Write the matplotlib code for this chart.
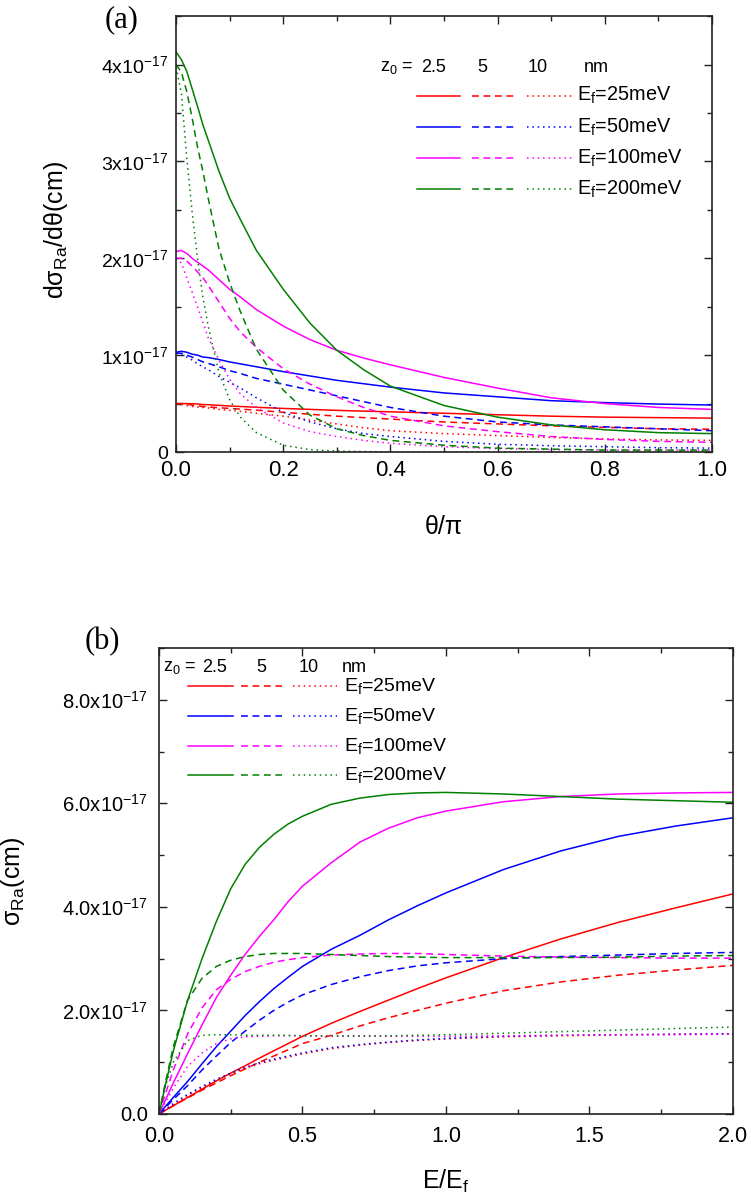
import matplotlib
matplotlib.use("Agg")
import matplotlib.pyplot as plt
from matplotlib.ticker import FixedLocator, FixedFormatter, MultipleLocator

plt.rcParams['font.family'] = ['Liberation Sans', 'DejaVu Sans']
plt.rcParams['mathtext.fontset'] = 'custom'
plt.rcParams['mathtext.rm'] = 'Liberation Sans'
plt.rcParams['mathtext.it'] = 'Liberation Sans:italic'

# ---------------- data, panel (a): dsigma/dtheta in units of 1e-17 cm ----------------
theta = [0, .01, .02, .03, .04, .05, .06, .08, .1, .12, .15, .2, .25, .3, .35, .4,
         .5, .6, .7, .8, .9, 1.0]

a_25_z25 = [.5, .5, .5, .498, .496, .49, .488, .482, .475, .47, .462, .45, .44, .43,
            .422, .415, .40, .385, .37, .36, .355, .35]
a_25_z5 = [.5, .5, .495, .485, .478, .47, .465, .457, .45, .443, .432, .41, .39, .37,
           .355, .34, .31, .29, .27, .255, .24, .235]
a_25_z10 = [.5, .49, .48, .47, .465, .46, .455, .44, .43, .42, .40, .37, .33, .29,
            .25, .22, .19, .17, .15, .135, .125, .12]

a_50_z25 = [1.03, 1.04, 1.03, 1.01, 1.0, .98, .975, .955, .93, .91, .88, .83, .785,
            .74, .705, .67, .61, .57, .53, .51, .495, .485]
a_50_z5 = [1.02, 1.02, 1.0, .98, .955, .93, .915, .88, .84, .81, .76, .70, .64, .58,
           .52, .46, .37, .31, .28, .26, .24, .22]
a_50_z10 = [1.02, 1.0, .98, .95, .91, .88, .85, .78, .72, .66, .56, .41, .31, .24,
            .19, .16, .11, .08, .065, .055, .045, .04]

a_100_z25 = [2.07, 2.08, 2.05, 2.0, 1.96, 1.92, 1.88, 1.78, 1.68, 1.6, 1.47, 1.3,
             1.16, 1.05, .97, .90, .77, .66, .56, .50, .46, .44]
a_100_z5 = [2.0, 2.0, 1.97, 1.92, 1.86, 1.8, 1.72, 1.55, 1.38, 1.24, 1.08, .86, .70,
            .57, .46, .37, .27, .21, .16, .13, .11, .10]
a_100_z10 = [2.0, 1.95, 1.8, 1.65, 1.5, 1.34, 1.18, .95, .75, .6, .46, .30, .21, .16,
             .12, .09, .055, .035, .025, .02, .02, .02]

a_200_z25 = [4.13, 4.05, 3.93, 3.75, 3.57, 3.38, 3.22, 2.9, 2.62, 2.4, 2.08, 1.68,
             1.33, 1.05, .85, .68, .48, .36, .28, .23, .20, .19]
a_200_z5 = [4.0, 3.92, 3.72, 3.45, 3.15, 2.9, 2.62, 2.1, 1.75, 1.45, 1.06, .64, .38,
            .24, .17, .12, .07, .04, .03, .02, .02, .02]
a_200_z10 = [3.97, 3.7, 3.04, 2.48, 2.0, 1.6, 1.3, .82, .54, .36, .2, .07, .025, .01,
             .005, 0, 0, 0, 0, 0, 0, 0]

# ---------------- data, panel (b): sigma in units of 1e-17 cm ----------------
e_ratio = [0, .02, .05, .1, .15, .2, .25, .3, .35, .4, .45, .5, .6, .7, .8, .9, 1.0,
           1.2, 1.4, 1.6, 1.8, 2.0]

b_25_z25 = [0, .065, .16, .32, .48, .64, .79, .93, 1.08, 1.22, 1.36, 1.50, 1.75, 1.98,
            2.2, 2.42, 2.63, 3.02, 3.38, 3.7, 3.98, 4.25]
b_25_z5 = [0, .065, .16, .31, .46, .6, .74, .87, 1.0, 1.12, 1.24, 1.36, 1.52, 1.7,
           1.86, 2.0, 2.14, 2.38, 2.55, 2.68, 2.78, 2.87]
b_25_z10 = [0, .07, .18, .36, .51, .65, .77, .88, .97, 1.04, 1.10, 1.16, 1.26, 1.33,
            1.38, 1.42, 1.45, 1.49, 1.51, 1.53, 1.54, 1.55]

b_50_z25 = [0, .13, .32, .63, .97, 1.3, 1.6, 1.9, 2.17, 2.42, 2.64, 2.85, 3.18, 3.45,
            3.75, 4.02, 4.27, 4.72, 5.08, 5.36, 5.56, 5.72]
b_50_z5 = [0, .11, .28, .55, .85, 1.12, 1.38, 1.6, 1.81, 2.0, 2.16, 2.3, 2.5, 2.65,
           2.77, 2.86, 2.92, 3.0, 3.04, 3.07, 3.1, 3.12]
b_50_z10 = [0, .08, .2, .38, .53, .67, .79, .9, .99, 1.06, 1.12, 1.18, 1.28, 1.34,
            1.39, 1.43, 1.46, 1.5, 1.52, 1.53, 1.54, 1.55]

b_100_z25 = [0, .24, .6, 1.17, 1.72, 2.25, 2.68, 3.08, 3.43, 3.75, 4.1, 4.4, 4.85,
             5.25, 5.52, 5.72, 5.85, 6.03, 6.13, 6.18, 6.2, 6.21]
b_100_z5 = [0, .35, .85, 1.55, 2.05, 2.4, 2.6, 2.75, 2.85, 2.93, 2.98, 3.02, 3.07,
            3.09, 3.1, 3.1, 3.08, 3.05, 3.03, 3.02, 3.01, 3.01]
b_100_z10 = [0, .2, .5, .92, 1.18, 1.36, 1.45, 1.49, 1.5, 1.51, 1.51, 1.51, 1.5, 1.5,
             1.5, 1.5, 1.5, 1.51, 1.52, 1.53, 1.53, 1.54]

b_200_z25 = [0, .5, 1.22, 2.2, 3.0, 3.72, 4.35, 4.82, 5.15, 5.4, 5.6, 5.75, 5.98, 6.1,
             6.17, 6.2, 6.21, 6.18, 6.13, 6.08, 6.05, 6.02]
b_200_z5 = [0, .55, 1.3, 2.2, 2.62, 2.85, 2.97, 3.04, 3.08, 3.1, 3.1, 3.1, 3.08, 3.06,
            3.04, 3.03, 3.02, 3.02, 3.02, 3.03, 3.05, 3.06]
b_200_z10 = [0, .5, 1.0, 1.42, 1.52, 1.53, 1.53, 1.52, 1.52, 1.52, 1.52, 1.51, 1.51,
             1.51, 1.51, 1.52, 1.53, 1.56, 1.59, 1.62, 1.65, 1.68]

energies = ['25', '50', '100', '200']
colors = ['#ff0000', '#0000ff', '#ff00ff', '#008000']
styles = ['-', (0, (4.5, 3)), (0, (1, 2.5))]
z0_labels = ['2.5', '5', '10']

curves_a = [[a_25_z25, a_25_z5, a_25_z10], [a_50_z25, a_50_z5, a_50_z10],
            [a_100_z25, a_100_z5, a_100_z10], [a_200_z25, a_200_z5, a_200_z10]]
curves_b = [[b_25_z25, b_25_z5, b_25_z10], [b_50_z25, b_50_z5, b_50_z10],
            [b_100_z25, b_100_z5, b_100_z10], [b_200_z25, b_200_z5, b_200_z10]]

fig = plt.figure(figsize=(7.51, 11.99), dpi=100)
ax_a = fig.add_axes([0.2344, 0.6230, 0.7137, 0.3636])
ax_b = fig.add_axes([0.2117, 0.0709, 0.7643, 0.3887])

for ax in (ax_a, ax_b):
    for sp in ax.spines.values():
        sp.set_linewidth(1.2)
        sp.set_color('#222222')
    ax.tick_params(which='both', direction='in', top=True, right=True,
                   width=1.0, color='#222222')
    ax.tick_params(which='major', length=6)
    ax.tick_params(which='minor', length=3.5)

# ---------------- panel (a) ----------------
for ci, group in enumerate(curves_a):
    for si, vals in enumerate(group):
        ax_a.plot(theta, [v * 1e-17 for v in vals], color=colors[ci],
                  linestyle=styles[si], lw=1.1)

ax_a.set_xlim(0, 1.0)
ax_a.set_ylim(0, 4.5e-17)
ax_a.xaxis.set_minor_locator(MultipleLocator(0.1))
ax_a.set_xticks([0, 0.2, 0.4, 0.6, 0.8, 1.0])
ax_a.set_xticklabels(['0.0', '0.2', '0.4', '0.6', '0.8', '1.0'])
a_yticks = [0, 1e-17, 2e-17, 3e-17, 4e-17]
a_ylabels = ['0'] + [r'%dx10$^{\mathregular{-17}}$' % k for k in range(1, 5)]
ax_a.yaxis.set_major_locator(FixedLocator(a_yticks))
ax_a.yaxis.set_major_formatter(FixedFormatter(a_ylabels))
ax_a.yaxis.set_minor_locator(MultipleLocator(0.5e-17))
ax_a.tick_params(axis='x', labelsize=16, pad=6)
ax_a.tick_params(axis='y', labelsize=14, pad=6)
ax_a.set_xlabel('θ/π', fontsize=18)
ax_a.xaxis.set_label_coords(0.5, -0.145)
ax_a.set_ylabel(r'dσ$_{\mathregular{Ra}}$/dθ(cm)', fontsize=18)
ax_a.yaxis.set_label_coords(-0.198, 0.51)

# legend (a)
tr = ax_a.transAxes
ax_a.text(0.381, 0.883, r'z$_{\mathregular{0}}$ = ', transform=tr, fontsize=13,
          ha='left', va='center')
for xx, lab in zip([0.481, 0.571, 0.675, 0.784], z0_labels + ['nm']):
    ax_a.text(xx, 0.883, lab, transform=tr, fontsize=13, ha='center', va='center')
seg_a = [(0.450, 0.530), (0.552, 0.636), (0.655, 0.739)]
rows_a = [0.817, 0.745, 0.674, 0.603]
for ci, yy in enumerate(rows_a):
    for si, (x0, x1) in enumerate(seg_a):
        ax_a.plot([x0, x1], [yy, yy], transform=tr, color=colors[ci],
                  linestyle=styles[si], lw=1.1)
    ax_a.text(0.748, yy, r'E$_{\mathregular{f}}$=%smeV' % energies[ci], transform=tr,
              fontsize=14.3, ha='left', va='center')

# ---------------- panel (b) ----------------
for ci, group in enumerate(curves_b):
    for si, vals in enumerate(group):
        ax_b.plot(e_ratio, [v * 1e-17 for v in vals], color=colors[ci],
                  linestyle=styles[si], lw=1.1)

ax_b.set_xlim(0, 2.0)
ax_b.set_ylim(0, 9e-17)
ax_b.xaxis.set_minor_locator(MultipleLocator(0.25))
ax_b.set_xticks([0, 0.5, 1.0, 1.5, 2.0])
ax_b.set_xticklabels(['0.0', '0.5', '1.0', '1.5', '2.0'])
b_yticks = [0, 2e-17, 4e-17, 6e-17, 8e-17]
b_ylabels = ['0.0'] + [r'%.1fx10$^{\mathregular{-17}}$' % k for k in (2, 4, 6, 8)]
ax_b.yaxis.set_major_locator(FixedLocator(b_yticks))
ax_b.yaxis.set_major_formatter(FixedFormatter(b_ylabels))
ax_b.yaxis.set_minor_locator(MultipleLocator(1e-17))
ax_b.tick_params(axis='x', labelsize=15.5, pad=9)
ax_b.tick_params(axis='y', labelsize=14.5, pad=8)
ax_b.set_xlabel(r'E/E$_{\mathregular{f}}$', fontsize=18)
ax_b.xaxis.set_label_coords(0.5, -0.115)
ax_b.set_ylabel(r'σ$_{\mathregular{Ra}}$(cm)', fontsize=18)
ax_b.yaxis.set_label_coords(-0.23, 0.50)

# legend (b)
tr = ax_b.transAxes
ax_b.text(0.007, 0.959, r'z$_{\mathregular{0}}$ = ', transform=tr, fontsize=13,
          ha='left', va='center')
for xx, lab in zip([0.096, 0.178, 0.261, 0.341], z0_labels + ['nm']):
    ax_b.text(xx, 0.959, lab, transform=tr, fontsize=13, ha='center', va='center')
seg_b = [(0.050, 0.129), (0.143, 0.214), (0.233, 0.310)]
rows_b = [0.918, 0.854, 0.790, 0.727]
for ci, yy in enumerate(rows_b):
    for si, (x0, x1) in enumerate(seg_b):
        ax_b.plot([x0, x1], [yy, yy], transform=tr, color=colors[ci],
                  linestyle=styles[si], lw=1.1)
    ax_b.text(0.322, yy, r'E$_{\mathregular{f}}$=%smeV' % energies[ci], transform=tr,
              fontsize=14, ha='left', va='center')

# panel letters
fig.text(0.1625, 0.9833, '(a)', family=['Liberation Serif', 'DejaVu Serif'],
         fontsize=22, ha='center', va='center')
fig.text(0.1358, 0.4646, '(b)', family=['Liberation Serif', 'DejaVu Serif'],
         fontsize=22, ha='center', va='center')

fig.savefig('out.png', dpi=100)
plt.close(fig)
